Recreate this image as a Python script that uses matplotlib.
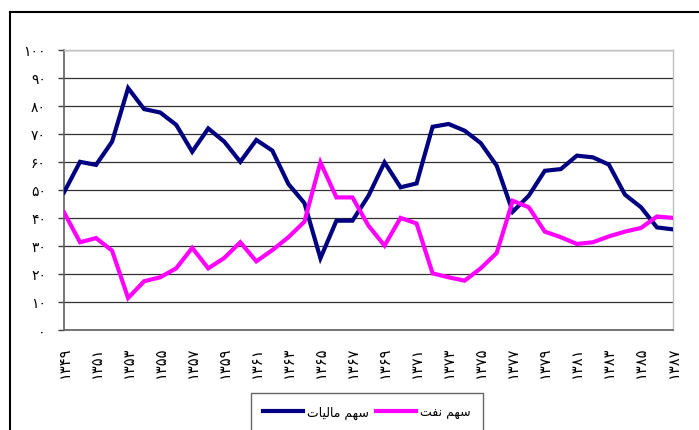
import numpy as np
import matplotlib
matplotlib.use("Agg")
import matplotlib.pyplot as plt
from matplotlib.lines import Line2D

years = np.arange(1349, 1388)
# سهم مالیات
tax = [49.1, 60.0, 58.9, 67.2, 86.3, 78.8, 77.6, 73.2, 63.6, 71.9,
       67.2, 60.0, 67.8, 64.0, 52.1, 45.3, 25.6, 39.0, 39.0, 47.9,
       59.8, 50.9, 52.3, 72.5, 73.5, 71.1, 66.7, 58.6, 42.2, 47.9,
       56.8, 57.4, 62.2, 61.6, 59.0, 48.3, 43.8, 36.6, 35.9]
# سهم نفت
oil = [42.0, 31.3, 32.8, 28.3, 11.4, 17.4, 18.8, 22.0, 29.3, 22.0,
       25.7, 31.3, 24.5, 28.5, 33.1, 38.6, 59.8, 47.3, 47.3, 37.2,
       30.1, 40.0, 38.0, 20.2, 18.8, 17.6, 22.0, 27.5, 46.1, 43.8,
       35.1, 33.1, 30.7, 31.3, 33.4, 35.1, 36.4, 40.5, 40.0]

# presentation forms in visual (left to right) order
lbl_tax = "\uFE95\uFE8E\uFEF4\uFEDF\uFE8E\uFEE3 \uFEE2\uFEEC\uFEB3"
lbl_oil = "\uFE96\uFED4\uFEE7 \uFEE2\uFEEC\uFEB3"

fa_digits = str.maketrans("0123456789", "۰۱۲۳۴۵۶۷۸۹")
def fa(n):
    return str(n).translate(fa_digits)

plt.rcParams['font.family'] = ['DejaVu Sans']

fig = plt.figure(figsize=(6.99, 4.31), dpi=100)
ax = fig.add_axes([64/699, 1-331/431, (673-64)/699, (331-50.7)/431])

ax.plot(years, tax, color="#000080", lw=3, solid_joinstyle="miter", zorder=3)
ax.plot(years, oil, color="#FF00FF", lw=3, solid_joinstyle="miter", zorder=3)

ax.set_xlim(1349, 1387)
ax.set_ylim(0, 100)
yt = np.arange(0, 101, 10)
ax.set_yticks(yt)
ax.set_yticklabels([fa(v) for v in yt], fontsize=10)
ax.yaxis.grid(True, color="#303030", lw=0.9)
ax.set_axisbelow(True)

xt = np.arange(1349, 1388, 2)
ax.set_xticks(xt)
ax.set_xticklabels([fa(v) for v in xt], rotation=90, fontsize=10.5)
ax.set_xticks(np.arange(1349, 1388, 4), minor=True)
ax.tick_params(axis="x", which="major", length=0, pad=11)
ax.tick_params(axis="x", which="minor", length=4, width=1, color="#606060")
ax.tick_params(axis="y", length=4, width=1, color="#404040", pad=9)

for s in ["left", "bottom"]:
    ax.spines[s].set_color("#606060")
    ax.spines[s].set_linewidth(1.2)
for s in ["right", "top"]:
    ax.spines[s].set_color("#c0c0c0")
    ax.spines[s].set_linewidth(1)

handles = [Line2D([], [], color="#000080", lw=3),
           Line2D([], [], color="#FF00FF", lw=3)]
leg = fig.legend(handles, [lbl_tax, lbl_oil], ncol=2, loc="upper center",
                 bbox_to_anchor=(367/699, 1-394/431), fontsize=9,
                 frameon=True, fancybox=False, handlelength=3.2,
                 handletextpad=0.3, columnspacing=0.6, borderpad=1.0,
                 borderaxespad=0)
leg.get_frame().set_edgecolor("#404040")
leg.get_frame().set_linewidth(1)

# outer chart frame
fig.add_artist(Line2D([10/699, 1], [1-13/431, 1-13/431], color="black", lw=1.5,
                      transform=fig.transFigure))
fig.add_artist(Line2D([10/699, 10/699], [0, 1-13/431], color="black", lw=1.5,
                      transform=fig.transFigure))

fig.savefig("out.png", dpi=100)
